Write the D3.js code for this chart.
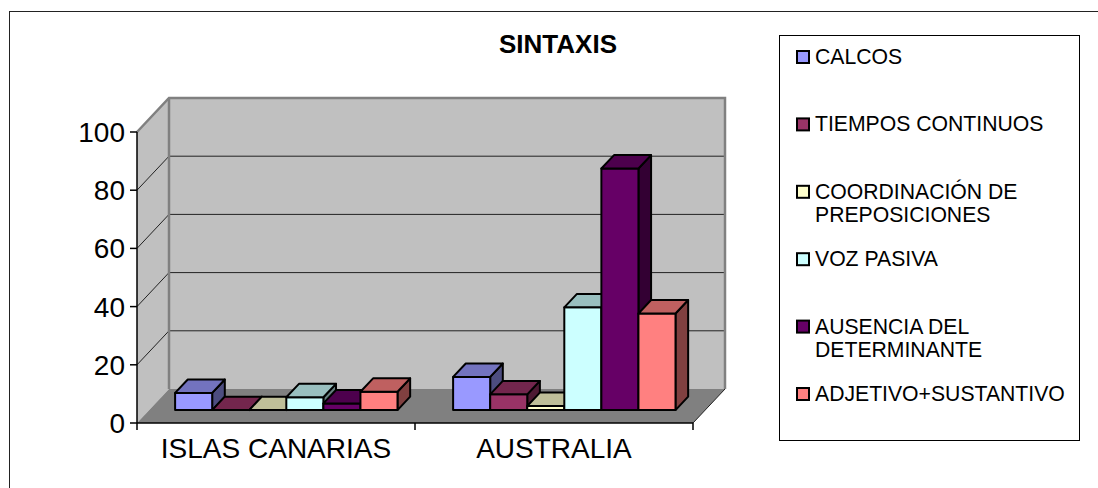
<!DOCTYPE html>
<html>
<head>
<meta charset="utf-8">
<script src="https://cdn.jsdelivr.net/npm/d3@7"></script>
<style>
  body { margin: 0; background: #fff; }
  text { font-family: Arial, "Liberation Sans", sans-serif; }
</style>
</head>
<body>
<script>
var categories = ["ISLAS CANARIAS", "AUSTRALIA"];
var seriesNames = ["CALCOS", "TIEMPOS CONTINUOS", "COORDINACIÓN DE PREPOSICIONES",
                   "VOZ PASIVA", "AUSENCIA DEL DETERMINANTE", "ADJETIVO+SUSTANTIVO"];
var legendLines = [["CALCOS"], ["TIEMPOS CONTINUOS"], ["COORDINACIÓN DE", "PREPOSICIONES"],
                   ["VOZ PASIVA"], ["AUSENCIA DEL", "DETERMINANTE"], ["ADJETIVO+SUSTANTIVO"]];
var islasValues = [5.9, 0, 0, 4.4, 2.3, 6.3];
var australiaValues = [11.4, 5.4, 1.4, 35.3, 83, 33.2];
var seriesColors = ["#9999FF", "#993366", "#FFFFCC", "#CCFFFF", "#660066", "#FF8080"];
var yTicks = [0, 20, 40, 60, 80, 100];

var width = 1098, height = 488;
var DX = 32, DY = 34;          // wall depth
var f0 = 0.38, f1 = 0.775;     // bar front/back depth fractions

var svg = d3.select("body").append("svg")
    .attr("width", width)
    .attr("height", height);

// outer chart border
svg.append("rect")
    .attr("x", 9.5).attr("y", 11.5)
    .attr("width", 1100).attr("height", 500)
    .attr("fill", "none").attr("stroke", "#222").attr("stroke-width", 1);

var x = d3.scaleBand().domain(categories).range([137, 693]).padding(0);
var y = d3.scaleLinear().domain([0, 100]).range([423, 132]);

function pt(px, v, f) {
    return [px + f * DX, y(v) - f * DY];
}
function poly(pts) {
    return "M" + pts.map(function (p) { return p[0] + "," + p[1]; }).join("L") + "Z";
}
function shade(c, k) {
    var r = d3.rgb(c);
    return d3.rgb(r.r * k, r.g * k, r.b * k).toString();
}

var X0 = x.range()[0], X1 = x.range()[1];

// walls and floor
svg.append("path")
    .attr("d", poly([pt(X0, 0, 0), pt(X0, 100, 0), pt(X0, 100, 1), pt(X0, 0, 1)]))
    .attr("fill", "#c0c0c0");
svg.append("path")
    .attr("d", poly([pt(X0, 0, 1), pt(X1, 0, 1), pt(X1, 100, 1), pt(X0, 100, 1)]))
    .attr("fill", "#c0c0c0");
svg.append("path")
    .attr("d", poly([pt(X0, 0, 0), pt(X1, 0, 0), pt(X1, 0, 1), pt(X0, 0, 1)]))
    .attr("fill", "#808080");

// gridlines
var grid = yTicks.filter(function (d) { return d > 0 && d < 100; });
svg.selectAll(".gback").data(grid).enter().append("line")
    .attr("x1", pt(X0, 0, 1)[0]).attr("x2", pt(X1, 0, 1)[0])
    .attr("y1", function (d) { return pt(X0, d, 1)[1]; })
    .attr("y2", function (d) { return pt(X0, d, 1)[1]; })
    .attr("stroke", "#222").attr("stroke-width", 1);
svg.selectAll(".gside").data(grid).enter().append("line")
    .attr("x1", X0).attr("x2", X0 + DX)
    .attr("y1", function (d) { return y(d); })
    .attr("y2", function (d) { return y(d) - DY; })
    .attr("stroke", "#222").attr("stroke-width", 1);

// wall edges
svg.append("path")
    .attr("d", "M" + pt(X0, 100, 0) + "L" + pt(X0, 100, 1) + "L" + pt(X1, 100, 1) + "L" + pt(X1, 0, 1))
    .attr("fill", "none").attr("stroke", "#808080").attr("stroke-width", 2.5);
svg.append("line")
    .attr("x1", X0 + DX).attr("x2", X0 + DX)
    .attr("y1", y(100) - DY).attr("y2", y(0) - DY)
    .attr("stroke", "#808080").attr("stroke-width", 2.5);
svg.append("line")
    .attr("x1", X1).attr("y1", y(0))
    .attr("x2", X1 + DX).attr("y2", y(0) - DY)
    .attr("stroke", "#222").attr("stroke-width", 1);

// bars
var groups = [islasValues, australiaValues];
groups.forEach(function (vals, gi) {
    var bw = x.bandwidth() / 7.5;
    var start = x(categories[gi]) + bw * 0.7;
    vals.forEach(function (v, si) {
        var bx = start + si * bw, c = seriesColors[si];
        var g = svg.append("g")
            .attr("stroke", "#000").attr("stroke-width", 2).attr("stroke-linejoin", "round");
        g.append("path")
            .attr("d", poly([pt(bx + bw, 0, f0), pt(bx + bw, 0, f1), pt(bx + bw, v, f1), pt(bx + bw, v, f0)]))
            .attr("fill", shade(c, 0.5));
        g.append("path")
            .attr("d", poly([pt(bx, 0, f0), pt(bx + bw, 0, f0), pt(bx + bw, v, f0), pt(bx, v, f0)]))
            .attr("fill", c);
        g.append("path")
            .attr("d", poly([pt(bx, v, f0), pt(bx + bw, v, f0), pt(bx + bw, v, f1), pt(bx, v, f1)]))
            .attr("fill", shade(c, 0.75));
    });
});

// axes
svg.append("line")
    .attr("x1", X0).attr("x2", X1).attr("y1", y(0)).attr("y2", y(0))
    .attr("stroke", "#000").attr("stroke-width", 1.5);
svg.append("line")
    .attr("x1", X0).attr("x2", X0).attr("y1", y(100)).attr("y2", y(0) + 7)
    .attr("stroke", "#000").attr("stroke-width", 1.5);
svg.selectAll(".ytick").data(yTicks).enter().append("line")
    .attr("x1", X0 - 7).attr("x2", X0)
    .attr("y1", function (d) { return y(d); })
    .attr("y2", function (d) { return y(d); })
    .attr("stroke", "#000").attr("stroke-width", 1.5);
svg.selectAll(".ylab").data(yTicks).enter().append("text")
    .attr("x", X0 - 12)
    .attr("y", function (d) { return y(d); })
    .attr("dy", "0.36em")
    .attr("text-anchor", "end")
    .attr("font-size", 28)
    .text(function (d) { return d; });

var xTickPos = categories.map(function (c) { return x(c); }).concat([X1]);
svg.selectAll(".xtick").data(xTickPos.slice(1)).enter().append("line")
    .attr("x1", function (d) { return d; }).attr("x2", function (d) { return d; })
    .attr("y1", y(0)).attr("y2", y(0) + 7)
    .attr("stroke", "#000").attr("stroke-width", 1.5);
svg.selectAll(".xlab").data(categories).enter().append("text")
    .attr("x", function (d) { return x(d) + x.bandwidth() / 2; })
    .attr("y", 458)
    .attr("text-anchor", "middle")
    .attr("font-size", 28)
    .text(function (d) { return d; });

// title
svg.append("text")
    .attr("x", 558).attr("y", 53)
    .attr("text-anchor", "middle")
    .attr("font-size", 26).attr("font-weight", "bold")
    .text("SINTAXIS");

// legend
svg.append("rect")
    .attr("x", 779.5).attr("y", 35.5)
    .attr("width", 300).attr("height", 405)
    .attr("fill", "#fff").attr("stroke", "#000").attr("stroke-width", 1);

var ly = d3.scaleLinear().domain([0, seriesNames.length - 1]).range([64, 401]);
var items = svg.selectAll(".leg").data(seriesNames).enter().append("g")
    .attr("transform", function (d, i) { return "translate(0," + ly(i) + ")"; });
items.append("rect")
    .attr("x", 797).attr("y", -13)
    .attr("width", 12).attr("height", 12)
    .attr("fill", function (d, i) { return seriesColors[i]; })
    .attr("stroke", "#000").attr("stroke-width", 2);
items.each(function (d, i) {
    var t = d3.select(this).append("text")
        .attr("x", 815).attr("y", 0)
        .attr("font-size", 21.2);
    legendLines[i].forEach(function (line, li) {
        t.append("tspan").attr("x", 815).attr("dy", li === 0 ? 0 : 23.3).text(line);
    });
});
</script>
</body>
</html>
